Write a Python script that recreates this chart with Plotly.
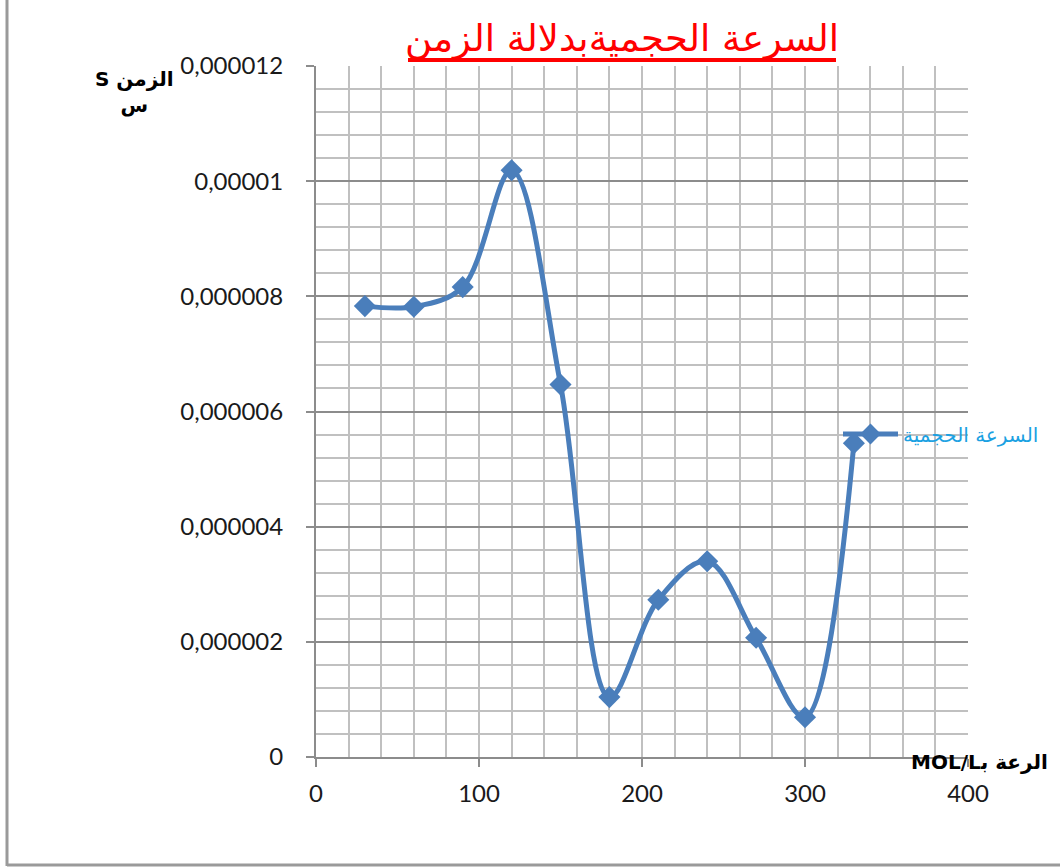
import plotly.graph_objects as go

# Measured volume rate versus concentration
concentration = [30, 60, 90, 120, 150, 180, 210, 240, 270, 300, 330]
rate = [7.83e-6, 7.82e-6, 8.16e-6, 10.19e-6, 6.47e-6, 1.04e-6,
        2.73e-6, 3.40e-6, 2.07e-6, 0.69e-6, 5.45e-6]

x_ticks = [0, 100, 200, 300, 400]
y_ticks = [0, 2e-6, 4e-6, 6e-6, 8e-6, 10e-6, 12e-6]
y_tick_labels = ["0", "0,000002", "0,000004", "0,000006",
                 "0,000008", "0,00001", "0,000012"]

series_name = "السرعة الحجمية"
chart_title = "السرعة الحجميةبدلالة الزمن"
y_title = "\u202bالزمن S\u202c<br>س"
x_title = "\u202bالرعة ب\u200dMOL/L\u202c"

W, H = 1060, 868
L, R, T, B = 316, 92, 66, 111
pw, ph = W - L - R, H - T - B


def px(x):
    return (x - L) / pw


def py(y):
    return (H - B - y) / ph


LINE_BLUE = "#4A7EBB"
MINOR = "#c0c0c0"
MAJOR = "#8c8c8c"

fig = go.Figure()
fig.add_trace(go.Scatter(
    x=concentration, y=rate, name=series_name,
    mode="lines+markers",
    line=dict(color=LINE_BLUE, width=5, shape="spline", smoothing=1.0),
    marker=dict(symbol="diamond", size=17, color=LINE_BLUE),
))

tick_font = dict(family="Lato, Open Sans, sans-serif", size=24, color="#1a1a1a")

fig.update_layout(
    width=W, height=H,
    margin=dict(l=L, r=R, t=T, b=B),
    paper_bgcolor="white", plot_bgcolor="white",
    showlegend=True,
    legend=dict(
        x=px(838), y=py(434), xanchor="left", yanchor="middle",
        bgcolor="rgba(0,0,0,0)", borderwidth=0, itemwidth=55,
        font=dict(family="DejaVu Sans", size=20, color="#1BA1E2"),
    ),
    xaxis=dict(
        range=[0, 400], tickvals=x_ticks,
        showgrid=True, gridcolor=MINOR, gridwidth=1.5,
        minor=dict(dtick=20, showgrid=True, gridcolor=MINOR, gridwidth=1.5, ticks=""),
        showline=True, linecolor=MAJOR, linewidth=2,
        ticks="outside", ticklen=8, tickcolor=MAJOR, tickwidth=2,
        ticklabelstandoff=6,
        zeroline=False, tickfont=tick_font,
    ),
    yaxis=dict(
        range=[0, 12e-6], tickvals=y_ticks, ticktext=y_tick_labels,
        showgrid=True, gridcolor=MAJOR, gridwidth=2,
        minor=dict(dtick=0.4e-6, showgrid=True, gridcolor=MINOR, gridwidth=1.5, ticks=""),
        showline=True, linecolor=MAJOR, linewidth=2,
        ticks="outside", ticklen=8, tickcolor=MAJOR, tickwidth=2,
        ticklabelstandoff=18,
        zeroline=False, tickfont=tick_font,
    ),
    title=dict(
        text=chart_title, xref="paper", x=px(622), xanchor="center",
        yref="container", y=1 - 38 / H, yanchor="middle",
        font=dict(family="DejaVu Sans", size=37, color="#FF0000"),
    ),
)

# title underline
fig.add_shape(type="line", xref="paper", yref="paper",
              x0=px(408), x1=px(836), y0=py(60), y1=py(60),
              line=dict(color="#FF0000", width=4))

# chart frame (left and bottom edges)
fig.add_shape(type="line", xref="paper", yref="paper",
              x0=px(7), x1=px(7), y0=py(866), y1=py(0),
              line=dict(color="#9a9a9a", width=3))
fig.add_shape(type="line", xref="paper", yref="paper",
              x0=px(7), x1=px(1060), y0=py(865), y1=py(865),
              line=dict(color="#9a9a9a", width=3))

fig.add_annotation(text=f"<b>{y_title}</b>", xref="paper", yref="paper",
                   x=px(134), y=py(92), xanchor="center", yanchor="middle",
                   showarrow=False, align="center",
                   font=dict(family="DejaVu Sans", size=20, color="#000000"))
fig.add_annotation(text=f"<b>{x_title}</b>", xref="paper", yref="paper",
                   x=px(980), y=py(762), xanchor="center", yanchor="middle",
                   showarrow=False,
                   font=dict(family="DejaVu Sans", size=20, color="#000000"))

fig.write_html("out.html")
